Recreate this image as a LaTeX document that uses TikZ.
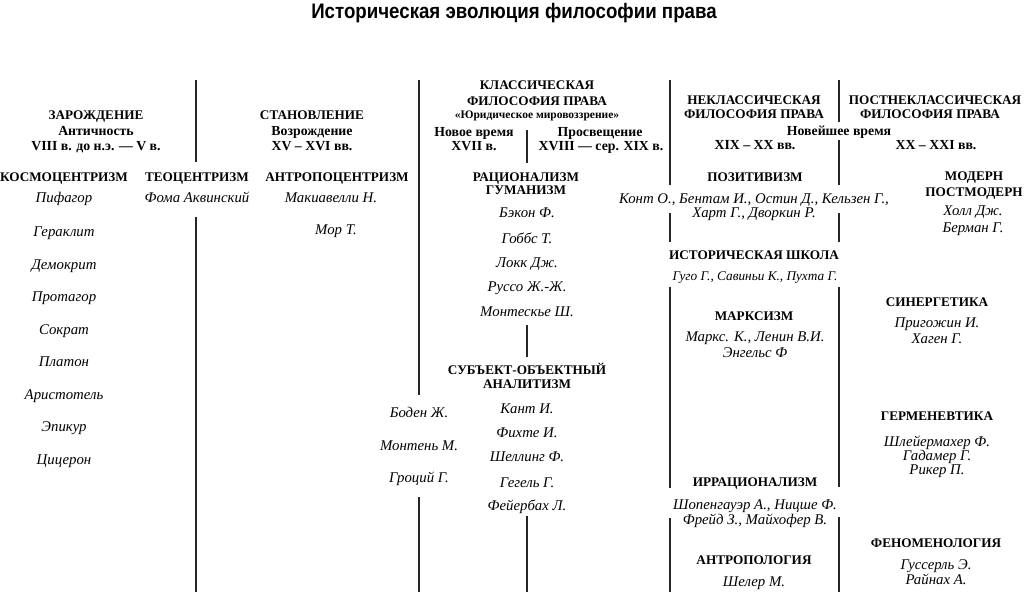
\documentclass[tikz,border=0pt]{standalone}
\usepackage{fontspec}
\setmainfont{Liberation Serif}
\newfontfamily\titlefont{Liberation Sans}
\begin{document}
\begin{tikzpicture}[x=1pt,y=-1pt,
  every node/.style={inner sep=0pt, anchor=base},
  ttl/.style={font=\titlefont\bfseries\fontsize{21}{23}\selectfont},
  hd/.style={font=\bfseries\fontsize{13.2}{14}\selectfont},
  per/.style={font=\bfseries\fontsize{13.8}{14}\selectfont},
  sm/.style={font=\bfseries\fontsize{11.5}{12}\selectfont},
  nm/.style={font=\itshape\fontsize{14.8}{15}\selectfont},
  sep/.style={line width=1.3pt, black!85}]
\useasboundingbox (0,0) rectangle (1024,592);
\fill[white] (0,0) rectangle (1024,592);
% title
\node[ttl] (title) at (514,18) {\scalebox{0.89}[1]{Историческая эволюция философии права}};
% period headers
\node[hd] (zar) at (96,119) {ЗАРОЖДЕНИЕ};
\node[per] (zar2) at (96,135) {Античность};
\node[per] (zar3) at (96,150) {VIII в. до н.э. — V в.};
\node[hd] (stan) at (312,119) {СТАНОВЛЕНИЕ};
\node[per] (stan2) at (312,135) {Возрождение};
\node[per] (stan3) at (312,150) {XV – XVI вв.};
\node[hd] (kl1) at (537,89) {КЛАССИЧЕСКАЯ};
\node[hd] (kl2) at (537,105) {ФИЛОСОФИЯ ПРАВА};
\node[sm] (kl3) at (537,118) {«Юридическое мировоззрение»};
\node[per] (nov1) at (474,136) {Новое время};
\node[per] (nov2) at (474,150) {XVII в.};
\node[per] (pro1) at (600,136) {Просвещение};
\node[per] (pro2) at (601,150) {XVIII — сер. XIX в.};
\node[hd] (nk1) at (754,104) {НЕКЛАССИЧЕСКАЯ};
\node[hd] (nk2) at (754,118) {ФИЛОСОФИЯ ПРАВА};
\node[hd] (pk1) at (935,104) {ПОСТНЕКЛАССИЧЕСКАЯ};
\node[hd] (pk2) at (930,118) {ФИЛОСОФИЯ ПРАВА};
\node[per] (nvr) at (839,135) {Новейшее время};
\node[per] (nk3) at (755,149) {XIX – XX вв.};
\node[per] (pk3) at (936,149) {XX – XXI вв.};
% school headers
\node[hd] (kosm) at (64,181) {КОСМОЦЕНТРИЗМ};
\node[hd] (teo) at (197,181) {ТЕОЦЕНТРИЗМ};
\node[hd] (antr) at (337,181) {АНТРОПОЦЕНТРИЗМ};
\node[hd] (rac1) at (526,181) {РАЦИОНАЛИЗМ};
\node[hd] (rac2) at (526,194) {ГУМАНИЗМ};
\node[hd] (poz) at (755,181) {ПОЗИТИВИЗМ};
\node[hd] (mod1) at (974,180) {МОДЕРН};
\node[hd] (mod2) at (974,196) {ПОСТМОДЕРН};
\node[hd] (ist) at (754,259) {ИСТОРИЧЕСКАЯ ШКОЛА};
\node[hd] (syn) at (937,306) {СИНЕРГЕТИКА};
\node[hd] (mar) at (754,320) {МАРКСИЗМ};
\node[hd] (sub1) at (527,374) {СУБЪЕКТ-ОБЪЕКТНЫЙ};
\node[hd] (sub2) at (527,388) {АНАЛИТИЗМ};
\node[hd] (her) at (937,420) {ГЕРМЕНЕВТИКА};
\node[hd] (irr) at (755,486) {ИРРАЦИОНАЛИЗМ};
\node[hd] (fen) at (936,547) {ФЕНОМЕНОЛОГИЯ};
\node[hd] (ant) at (754,564) {АНТРОПОЛОГИЯ};
% names
\node[nm] (a1) at (64,202) {Пифагор};
\node[nm] (a2) at (64,236) {Гераклит};
\node[nm] (a3) at (64,269) {Демокрит};
\node[nm] (a4) at (64,301) {Протагор};
\node[nm] (a5) at (64,334) {Сократ};
\node[nm] (a6) at (64,366) {Платон};
\node[nm] (a7) at (64,399) {Аристотель};
\node[nm] (a8) at (64,431) {Эпикур};
\node[nm] (a9) at (64,464) {Цицерон};
\node[nm] (t1) at (197,202) {Фома Аквинский};
\node[nm] (s1) at (331,202) {Макиавелли Н.};
\node[nm] (s2) at (336,234) {Мор Т.};
\node[nm] (r1) at (527,217) {Бэкон Ф.};
\node[nm] (r2) at (527,243) {Гоббс Т.};
\node[nm] (r3) at (527,267) {Локк Дж.};
\node[nm] (r4) at (527,291) {Руссо Ж.-Ж.};
\node[nm] (r5) at (527,316) {Монтескье Ш.};
\node[nm] (b1) at (527,413) {Кант И.};
\node[nm] (b2) at (527,437) {Фихте И.};
\node[nm] (b3) at (527,461) {Шеллинг Ф.};
\node[nm] (b4) at (527,487) {Гегель Г.};
\node[nm] (b5) at (527,510) {Фейербах Л.};
\node[nm] (c1) at (419,417) {Боден Ж.};
\node[nm] (c2) at (419,450) {Монтень М.};
\node[nm] (c3) at (419,482) {Гроций Г.};
\node[nm] (p1) at (754,203) {Конт О., Бентам И., Остин Д., Кельзен Г.,};
\node[nm] (p2) at (754,217) {Харт Г., Дворкин Р.};
\node[nm,font=\itshape\fontsize{13.3}{14}\selectfont] (h1) at (755,280) {Гуго Г., Савиньи К., Пухта Г.};
\node[nm] (m1) at (755,341) {Маркс. К., Ленин В.И.};
\node[nm] (m2) at (755,357) {Энгельс Ф};
\node[nm] (i1) at (755,509) {Шопенгауэр А., Ницше Ф.};
\node[nm] (i2) at (755,524) {Фрейд З., Майхофер В.};
\node[nm] (an1) at (754,586) {Шелер М.};
\node[nm] (md1) at (973,215) {Холл Дж.};
\node[nm] (md2) at (973,232) {Берман Г.};
\node[nm] (sy1) at (937,327) {Пригожин И.};
\node[nm] (sy2) at (937,343) {Хаген Г.};
\node[nm] (he1) at (937,446) {Шлейермахер Ф.};
\node[nm] (he2) at (937,460) {Гадамер Г.};
\node[nm] (he3) at (937,474) {Рикер П.};
\node[nm] (f1) at (936,569) {Гуссерль Э.};
\node[nm] (f2) at (936,584) {Райнах А.};
% separators
\draw[sep] (196,80) -- (196,162) (196,217) -- (196,592);
\draw[sep] (419,80) -- (419,395) (419,497) -- (419,592);
\draw[sep] (527,130) -- (527,163) (527,325) -- (527,357) (527,516) -- (527,592);
\draw[sep] (670,80) -- (670,185) (670,213) -- (670,242) (670,287) -- (670,488) (670,518) -- (670,592);
\draw[sep] (839,80) -- (839,122) (839,140) -- (839,185) (839,213) -- (839,242) (839,287) -- (839,487) (839,517) -- (839,592);
\end{tikzpicture}
\end{document}
